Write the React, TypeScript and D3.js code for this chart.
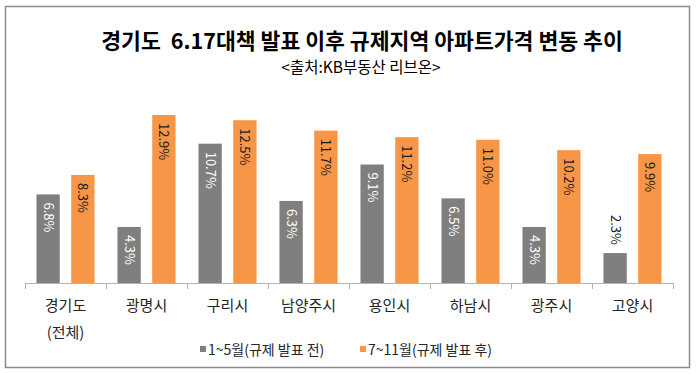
import * as d3 from "d3";

const categories = ["경기도\n(전체)", "광명시", "구리시", "남양주시", "용인시", "하남시", "광주시", "고양시"];
const beforeValues = [6.8, 4.3, 10.7, 6.3, 9.1, 6.5, 4.3, 2.3];
const afterValues = [8.3, 12.9, 12.5, 11.7, 11.2, 11.0, 10.2, 9.9];
const seriesNames = ["1~5월(규제 발표 전)", "7~11월(규제 발표 후)"];
const seriesColors = ["#7f7f7f", "#f79646"];

const title = "경기도  6.17대책 발표 이후 규제지역 아파트가격 변동 추이";
const subtitle = "<출처:KB부동산 리브온>";

const W = 700;
const H = 374;
const font = "'Noto Sans CJK KR', 'Noto Sans', sans-serif";

function App() {
  const x = d3.scaleBand<number>().domain(d3.range(categories.length)).range([25, 673]);
  const inner = d3.scaleBand<number>().domain([0, 1]).range([0, x.bandwidth()]).paddingInner(0.33).paddingOuter(0.33);
  const y = d3.scaleLinear().domain([0, 14]).range([283, 100.7]);

  const series = [beforeValues, afterValues];

  return (
    <svg width={W} height={H} style={{ position: "absolute", left: 0, top: 0, fontFamily: font }}>
      <rect x={0} y={0} width={W} height={H} fill="#fff" />
      <rect x={5.5} y={6.5} width={684} height={361} fill="#fff" stroke="#8c8c8c" strokeWidth={1.5} />

      <text x={362} y={49} textAnchor="middle" fontSize={21.6} fontWeight="bold" fill="#000" style={{ whiteSpace: "pre" }}>
        {title}
      </text>
      <text x={361} y={73} textAnchor="middle" fontSize={15.5} fill="#000">
        {subtitle}
      </text>

      {series.map((vals, s) =>
        vals.map((v, i) => {
          const bx = (x(i) ?? 0) + (inner(s) ?? 0);
          const bw = inner.bandwidth();
          const cx = bx + bw / 2;
          const top = y(v);
          const outside = y(0) - top < 45;
          return (
            <g key={`${s}-${i}`}>
              <rect x={bx} y={top} width={bw} height={y(0) - top} fill={seriesColors[s]} />
              <text
                transform={`translate(${cx},${outside ? top - 8 : top + 8}) rotate(90)`}
                textAnchor={outside ? "end" : "start"}
                dy="0.35em"
                fontSize={13}
                fill={s === 0 && !outside ? "#fff" : "#1a1a1a"}
              >
                {d3.format(".1f")(v)}%
              </text>
            </g>
          );
        })
      )}

      <line x1={25} x2={673} y1={283.5} y2={283.5} stroke="#b3b3b3" />
      {d3.range(categories.length + 1).map((i) => {
        const tx = Math.round(25 + i * x.step()) + 0.5;
        return <line key={i} x1={tx} x2={tx} y1={283} y2={289} stroke="#b3b3b3" />;
      })}

      {categories.map((c, i) => (
        <text key={c} x={(x(i) ?? 0) + x.bandwidth() / 2} y={311} textAnchor="middle" fontSize={15} fill="#262626">
          {c.split("\n").map((line, k) => (
            <tspan key={k} x={(x(i) ?? 0) + x.bandwidth() / 2} dy={k === 0 ? 0 : 27}>
              {line}
            </tspan>
          ))}
        </text>
      ))}

      {seriesNames.map((n, s) => {
        const lx = s === 0 ? 200 : 360;
        return (
          <g key={n}>
            <rect x={lx} y={346} width={6} height={6} fill={seriesColors[s]} />
            <text x={lx + 8} y={355} fontSize={14} fill="#262626">
              {n}
            </text>
          </g>
        );
      })}
    </svg>
  );
}

export default App;
